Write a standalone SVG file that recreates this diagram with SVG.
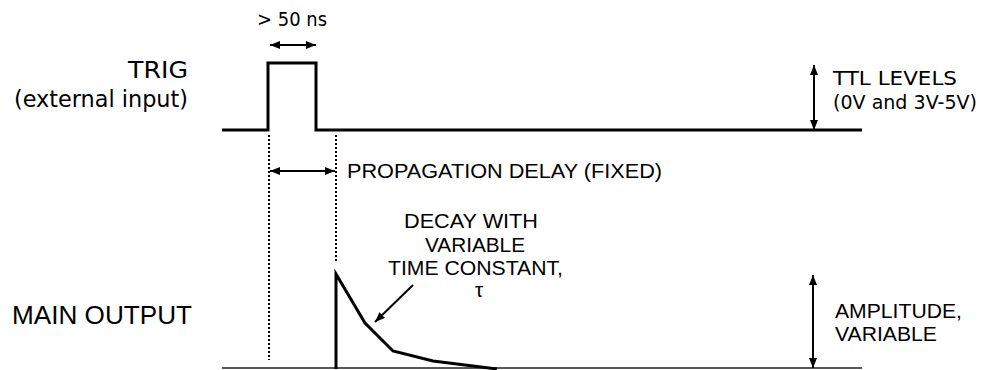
<svg xmlns="http://www.w3.org/2000/svg" width="984" height="370" viewBox="0 0 984 370">
<style>
.dv{font-family:"DejaVu Sans","Liberation Sans",sans-serif;fill:#000}
.ar{font-family:"Liberation Sans",Arial,sans-serif;fill:#000}
.sig{fill:none;stroke:#000;stroke-width:3;stroke-linejoin:miter}
.base{fill:none;stroke:#222;stroke-width:1.5}
.dot{fill:none;stroke:#000;stroke-width:2;stroke-dasharray:2 2}
.arr{fill:none;stroke:#000;stroke-width:2}
</style>
<defs>
<marker id="ah" viewBox="0 0 10 10" refX="10" refY="5" markerWidth="10" markerHeight="10" markerUnits="userSpaceOnUse" orient="auto-start-reverse">
<path d="M0,1 L10,5 L0,9 Z" fill="#000"/>
</marker>
</defs>
<rect width="984" height="370" fill="#fff"/>
<g id="labels">
<text class="dv" x="128" y="78" font-size="23" textLength="60" lengthAdjust="spacingAndGlyphs">TRIG</text>
<text class="dv" x="14" y="107" font-size="23" textLength="174" lengthAdjust="spacingAndGlyphs">(external input)</text>
<text class="ar" x="12" y="324" font-size="25.5" textLength="180" lengthAdjust="spacingAndGlyphs">MAIN OUTPUT</text>
</g>
<g id="trig-signal">
<path class="sig" d="M222,130 H268 V63 H316 V130 H862"/>
</g>
<g id="output-signal">
<path class="base" d="M222,368 H862"/>
<path class="sig" d="M336,369 V274 L365,323 L393,351 L433,361 L497,369"/>
</g>
<g id="guides">
<path class="dot" d="M269,135 V360"/>
<path class="dot" d="M336,135 V263"/>
</g>
<g id="connectors">
<path class="arr" d="M270,45 H316" marker-start="url(#ah)" marker-end="url(#ah)"/>
<path class="arr" d="M270,171 H335" marker-start="url(#ah)" marker-end="url(#ah)"/>
<path class="arr" d="M814,65 V130" marker-start="url(#ah)" marker-end="url(#ah)"/>
<path class="arr" d="M813,275 V368" marker-start="url(#ah)" marker-end="url(#ah)"/>
<path class="arr" d="M413,285 L375,322" marker-end="url(#ah)"/>
</g>
<g id="annotations">
<text class="dv" x="257" y="26" font-size="19" textLength="70" lengthAdjust="spacingAndGlyphs">&gt; 50 ns</text>
<text class="ar" x="347" y="178" font-size="20.5" textLength="315" lengthAdjust="spacingAndGlyphs">PROPAGATION DELAY (FIXED)</text>
<text class="ar" x="404" y="228" font-size="20.5" textLength="134" lengthAdjust="spacingAndGlyphs">DECAY WITH</text>
<text class="ar" x="425" y="252" font-size="20.5" textLength="100" lengthAdjust="spacingAndGlyphs">VARIABLE</text>
<text class="ar" x="388" y="275" font-size="20.5" textLength="175" lengthAdjust="spacingAndGlyphs">TIME CONSTANT,</text>
<text class="ar" x="479" y="297" font-size="20.5" text-anchor="middle">τ</text>
<text class="dv" x="833" y="85" font-size="19.5" textLength="124" lengthAdjust="spacingAndGlyphs">TTL LEVELS</text>
<text class="dv" x="833" y="109" font-size="19.5" textLength="144" lengthAdjust="spacingAndGlyphs">(0V and 3V-5V)</text>
<text class="ar" x="835" y="318" font-size="20" textLength="127" lengthAdjust="spacingAndGlyphs">AMPLITUDE,</text>
<text class="ar" x="835" y="341" font-size="20" textLength="102" lengthAdjust="spacingAndGlyphs">VARIABLE</text>
</g>
</svg>
